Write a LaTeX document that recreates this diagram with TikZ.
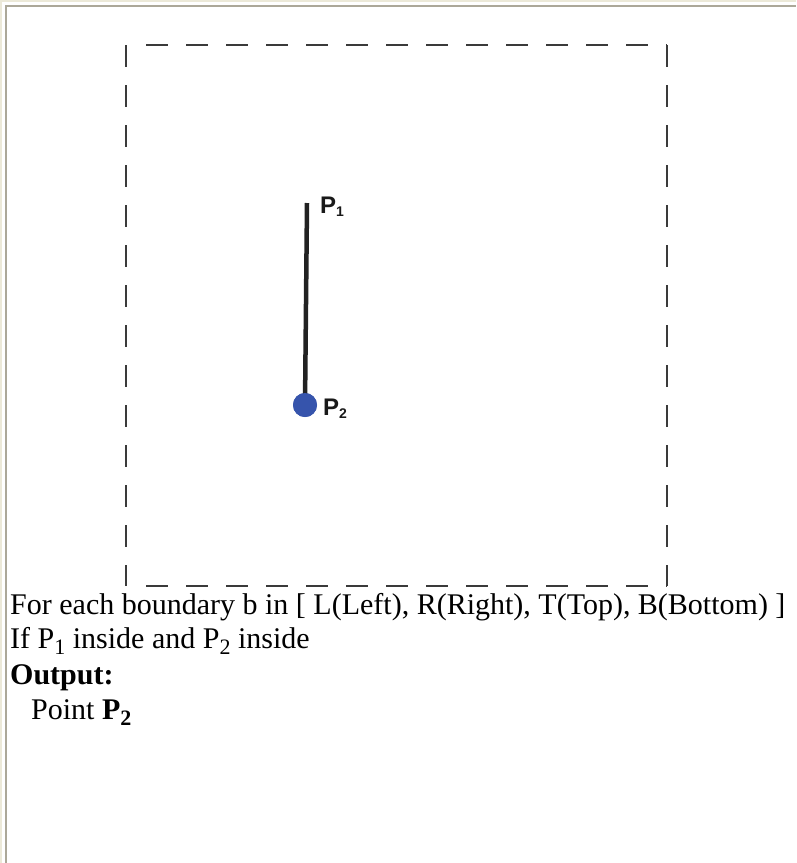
\documentclass[tikz,border=0pt]{standalone}
\usepackage{fontspec}
\setmainfont{Liberation Serif}
\newfontfamily\labelfont{Liberation Sans}
\definecolor{framebg}{HTML}{ECE9D8}
\definecolor{frameline}{HTML}{ACA899}
\definecolor{boxline}{HTML}{3A3A3A}
\definecolor{segcol}{HTML}{222222}
\definecolor{ptblue}{HTML}{3654AC}
\newcommand\txtsub[1]{\raisebox{-0.22em}{\fontsize{22}{22}\selectfont #1}}
\newcommand\lblsub[1]{\raisebox{-3pt}{\fontsize{14}{14}\selectfont #1}}
\tikzset{
  boxdash/.style={draw=boxline, line width=2pt, dash pattern=on 22pt off 18pt},
  bodytext/.style={anchor=base west, inner sep=0pt, font=\fontsize{30}{36}\selectfont, text=black},
  ptlabel/.style={anchor=base west, inner sep=0pt, font=\labelfont\bfseries\fontsize{24}{24}\selectfont, text=black!90},
}
\begin{document}
\begin{tikzpicture}[x=1pt,y=-1pt]
  % page frame
  \fill[framebg] (0,0) rectangle (796,863);
  \fill[white] (2,2) rectangle (796,863);
  \fill[frameline] (4.7,4.7) rectangle (796,863);
  \fill[white] (7,7) rectangle (796,863);
  \useasboundingbox (0,0) rectangle (796,863);
  % dashed clipping window
  \coordinate (tl) at (126,45);
  \coordinate (tr) at (667,45);
  \coordinate (bl) at (126,586);
  \coordinate (br) at (667,586);
  \draw[boxdash] (tl) -- (bl);
  \draw[boxdash] (tr) -- (br);
  \draw[boxdash] ([xshift=20pt]tl) -- (tr);
  \draw[boxdash] ([xshift=20pt]bl) -- (br);
  % segment
  \coordinate (p1) at (307,203);
  \node[circle, fill=ptblue, minimum size=24pt, inner sep=0pt] (p2) at (305,405) {};
  \draw[segcol, line width=4.5pt] (p1) -- (p2.center);
  \node[circle, fill=ptblue, minimum size=24pt, inner sep=0pt] at (p2) {};
  \node[ptlabel] (l1) at (320,213) {P\lblsub{1}};
  \node[ptlabel] (l2) at (323,415) {P\lblsub{2}};
  % text
  \node[bodytext] (t1) at (10,614) {For each boundary b in [ L(Left), R(Right), T(Top), B(Bottom) ]};
  \node[bodytext] (t2) at (10,648) {If P\txtsub{1} inside and P\txtsub{2} inside};
  \node[bodytext] (t3) at (10,684) {\textbf{Output:}};
  \node[bodytext] (t4) at (31,719) {Point \textbf{P\txtsub{2}}};
\end{tikzpicture}
\end{document}
